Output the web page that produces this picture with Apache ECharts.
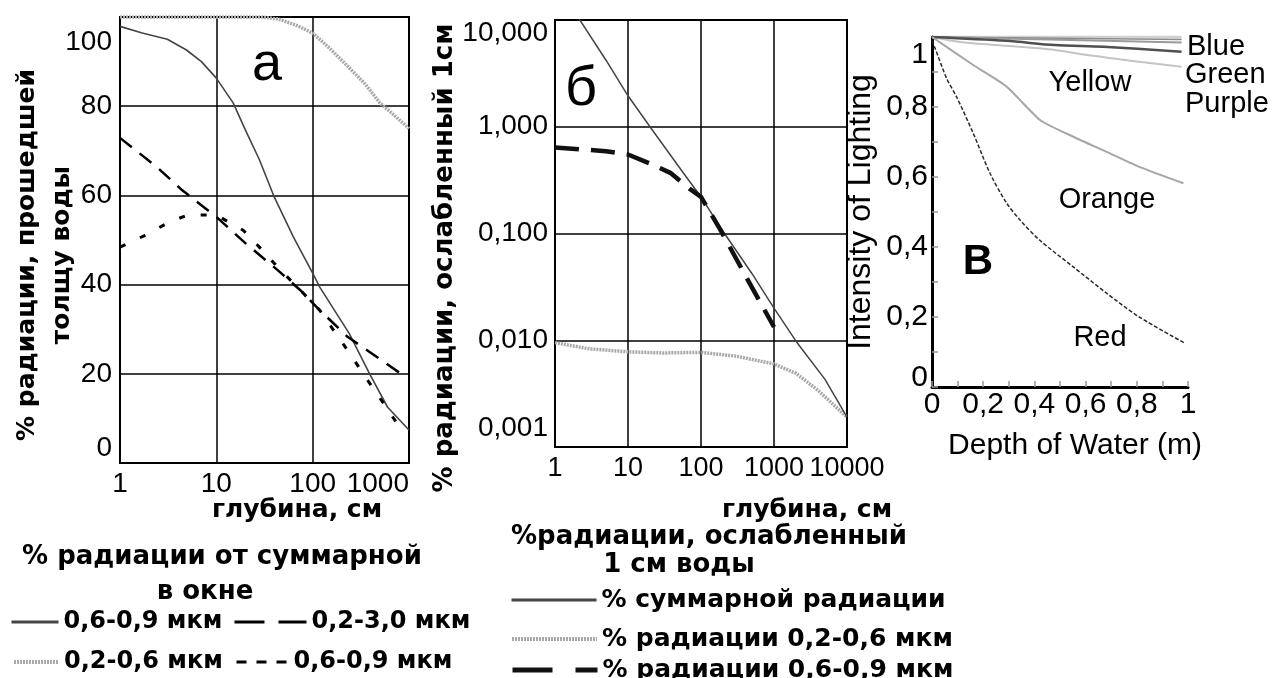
<!DOCTYPE html>
<html>
<head>
<meta charset="utf-8">
<script src="https://cdn.jsdelivr.net/npm/echarts@6.0.0/dist/echarts.min.js"></script>
<style>
  html, body { margin: 0; padding: 0; background: #fff; }
  #chart { width: 1277px; height: 678px; }
</style>
</head>
<body>
<div id="chart"></div>
<script>
// ---------- panel а: % of radiation passed through the water layer ----------
const depthTicksA = [1, 10, 100, 1000];
const pctTicksA = [0, 20, 40, 60, 80, 100];
// [depth, cm ; % of radiation]
const aTotal0609 = [[1, 97.9], [1.7, 96.4], [3.1, 95], [4.9, 92.6], [7, 90], [10, 86.3], [15, 80.7], [20, 74.7], [28, 68], [40, 59.6], [63, 50.7], [100, 42.6], [118, 39.5], [240, 29], [390, 20], [600, 12.5], [1000, 7.4]];
const aBand0206 = [[1, 100], [10, 100], [30, 100], [45, 99.5], [70, 98], [100, 96.4], [150, 93], [230, 89], [350, 85], [500, 80.7], [700, 78], [1000, 75]];
const aBand0230 = [[1, 72.9], [2.4, 66.4], [4.4, 61.2], [10, 55.2], [20, 49.3], [43, 43.3], [74, 38.8], [118, 34.3], [230, 28.3], [390, 24.9], [800, 20.2]];
const aBand0609 = [[1, 48.4], [1.8, 51], [3.1, 53.8], [5, 55.6], [10, 55.6], [19, 52.2], [28, 48.4], [43, 44], [74, 38.8], [118, 34.3], [240, 24.7], [360, 19], [540, 13.5], [800, 8]];

// ---------- panel б: % of radiation absorbed by 1 cm of water ----------
const depthTicksB = [1, 10, 100, 1000, 10000];
const attTicksB = [0.001, 0.01, 0.1, 1, 10];
const bTotal = [[2, 11], [5, 4.2], [10, 1.95], [20, 1.0], [50, 0.42], [100, 0.22], [200, 0.105], [500, 0.042], [1000, 0.02], [2000, 0.0098], [5000, 0.0043], [10000, 0.0019]];
const bBand0206 = [[1, 0.0095], [3, 0.0083], [10, 0.0078], [30, 0.0076], [100, 0.0077], [300, 0.0071], [1000, 0.006], [2000, 0.0049], [4000, 0.0034], [10000, 0.0019]];
const bBand0609 = [[1, 0.64], [5, 0.59], [10, 0.55], [22, 0.44], [38, 0.37], [71, 0.26], [100, 0.22], [182, 0.11], [426, 0.038], [1000, 0.0133]];

// ---------- panel в: light intensity vs depth of water ----------
const depthTicksC = [0, 0.2, 0.4, 0.6, 0.8, 1];
const intensityTicksC = [0, 0.2, 0.4, 0.6, 0.8, 1];
const redLight = [[0, 0.99], [0.012, 0.968], [0.057, 0.882], [0.096, 0.829], [0.161, 0.725], [0.227, 0.61], [0.292, 0.525], [0.344, 0.477], [0.42, 0.42], [0.552, 0.343], [0.682, 0.268], [0.81, 0.2], [0.988, 0.125]];
const orangeLight = [[0, 1.0], [0.161, 0.92], [0.292, 0.858], [0.422, 0.763], [0.552, 0.715], [0.682, 0.672], [0.81, 0.629], [0.982, 0.582]];
const yellowLight = [[0, 1.0], [0.11, 0.986], [0.25, 0.977], [0.48, 0.963], [0.6, 0.949], [0.8, 0.93], [0.975, 0.915]];
const purpleLight = [[0, 1.0], [0.29, 0.989], [0.48, 0.977], [0.67, 0.972], [0.975, 0.958]];
const greenLight = [[0, 1.0], [0.5, 0.992], [0.975, 0.984]];
const indigoLight = [[0, 1.0], [0.975, 0.993]];
const blueLight = [[0, 1.0], [0.975, 1.0]];

const legendText = {
  a1: '0,6-0,9 мкм',
  a3: '0,2-3,0 мкм',
  a2: '0,2-0,6 мкм',
  a4: '0,6-0,9 мкм',
  b1: '% суммарной радиации',
  b2: '% радиации 0,2-0,6 мкм',
  b3: '% радиации 0,6-0,9 мкм'
};

const NUM = 'Liberation Sans';
const TXT = 'DejaVu Sans';

const chart = echarts.init(document.getElementById('chart'), null, { renderer: 'canvas' });

const gridLines = { show: true, lineStyle: { color: '#000', width: 1.5 } };
const tickLabel = (size, margin) => ({ fontFamily: NUM, fontSize: size, color: '#000', margin: margin });
const nameStyle = (family, size, weight, padding, lineHeight) => ({
  fontFamily: family, fontSize: size, fontWeight: weight, color: '#000',
  padding: padding, lineHeight: lineHeight
});
const decimalComma = (v, digits) => v.toFixed(digits).replace('.', ',');

const grayRope = { color: '#a9a9a9', width: 3.5, type: [2, 1] };

function line(name, data, xi, lineStyle, extra) {
  return Object.assign({
    name: name, type: 'line', data: data,
    xAxisIndex: xi, yAxisIndex: xi,
    symbol: 'none', showSymbol: false, silent: true,
    itemStyle: { color: lineStyle.color },
    lineStyle: lineStyle, emphasis: { disabled: true }
  }, extra || {});
}

// one legend entry per component so each sample sits where the key layout needs it
function legendItem(name, left, top, itemWidth, lineStyle, fontSize, lh) {
  return {
    data: [name], left: left, top: top, orient: 'horizontal', padding: 0,
    itemWidth: itemWidth, itemHeight: 14, selectedMode: false,
    formatter: n => legendText[n],
    lineStyle: lineStyle,
    itemStyle: { color: 'rgba(0,0,0,0)', borderWidth: 0, opacity: 0 },
    textStyle: { fontFamily: TXT, fontWeight: 'bold', fontSize: fontSize, color: '#000', lineHeight: lh }
  };
}

function text(str, x, y, font, align) {
  return {
    type: 'text', x: x, y: y, silent: true,
    style: { text: str, font: font, fill: '#000', align: align || 'center', verticalAlign: 'middle' }
  };
}

const option = {
  backgroundColor: '#fff',
  animation: false,
  grid: [
    { left: 120, top: 17, width: 289, height: 446, show: true, borderColor: '#000', borderWidth: 2, backgroundColor: 'transparent', outerBoundsMode: 'none' },
    { left: 555, top: 20, width: 292, height: 427, show: true, borderColor: '#000', borderWidth: 2, backgroundColor: 'transparent', outerBoundsMode: 'none' },
    { left: 932, top: 37, width: 256, height: 350, show: false, outerBoundsMode: 'none' }
  ],
  xAxis: [
    {
      gridIndex: 0, type: 'log', logBase: 10, min: depthTicksA[0], max: depthTicksA[depthTicksA.length - 1],
      axisLine: { show: false }, axisTick: { show: false }, splitLine: gridLines,
      axisLabel: Object.assign(tickLabel(28, 7), { alignMaxLabel: 'right', formatter: v => String(Math.round(v)) }),
      name: 'глубина, см', nameLocation: 'middle', nameGap: 35, nameMoveOverlap: false,
      nameTextStyle: nameStyle(TXT, 25, 'bold', [0, 0, 0, 65])
    },
    {
      gridIndex: 1, type: 'log', logBase: 10, min: depthTicksB[0], max: depthTicksB[depthTicksB.length - 1],
      axisLine: { show: false }, axisTick: { show: false }, splitLine: gridLines,
      axisLabel: Object.assign(tickLabel(27, 8), { formatter: v => String(Math.round(v)) }),
      name: 'глубина, см', nameLocation: 'middle', nameGap: 51, nameMoveOverlap: false,
      nameTextStyle: nameStyle(TXT, 25, 'bold', [0, 0, 0, 212])
    },
    {
      gridIndex: 2, type: 'value', min: depthTicksC[0], max: depthTicksC[depthTicksC.length - 1], interval: 0.1,
      axisLine: { show: true, lineStyle: { color: '#000', width: 3 } },
      axisTick: { show: true, inside: true, length: 6, lineStyle: { color: '#999', width: 1.5 } },
      splitLine: { show: false },
      axisLabel: Object.assign(tickLabel(30, 3), {
        formatter: v => {
          const k = Math.round(v * 10);
          if (k % 2) return '';
          return k === 0 ? '0' : k === 10 ? '1' : decimalComma(k / 10, 1);
        }
      }),
      name: 'Depth of Water (m)', nameLocation: 'middle', nameGap: 44, nameMoveOverlap: false,
      nameTextStyle: nameStyle(NUM, 30, 'normal', [0, 0, 0, 30])
    }
  ],
  yAxis: [
    {
      gridIndex: 0, type: 'value', min: pctTicksA[0], max: pctTicksA[pctTicksA.length - 1], interval: 20,
      axisLine: { show: false }, axisTick: { show: false }, splitLine: gridLines,
      axisLabel: Object.assign(tickLabel(28, 8), {
        formatter: v => v === 100 ? '{hi|100}' : v === 0 ? '{lo|0}' : String(v),
        rich: {
          hi: { fontFamily: NUM, fontSize: 28, color: '#000', padding: [50, 0, 0, 0] },
          lo: { fontFamily: NUM, fontSize: 28, color: '#000', padding: [0, 0, 30, 0] }
        }
      }),
      name: '% радиации, прошедшей\nтолщу воды', nameLocation: 'middle', nameRotate: 90, nameGap: 40, nameMoveOverlap: false,
      nameTextStyle: nameStyle(TXT, 25, 'bold', [0, 30, 0, 0], 35)
    },
    {
      gridIndex: 1, type: 'log', logBase: 10, min: attTicksB[0], max: attTicksB[attTicksB.length - 1],
      axisLine: { show: false }, axisTick: { show: false }, splitLine: gridLines,
      axisLabel: Object.assign(tickLabel(28, 7), {
        formatter: v => {
          const s = decimalComma(v, 3);
          if (v >= 9.99) return '{hi|' + s + '}';
          if (v <= 0.00101) return '{lo|' + s + '}';
          return s;
        },
        rich: {
          hi: { fontFamily: NUM, fontSize: 28, color: '#000', padding: [26, 0, 0, 0] },
          lo: { fontFamily: NUM, fontSize: 28, color: '#000', padding: [0, 0, 38, 0] }
        }
      }),
      name: '% радиации, ослабленный 1см', nameLocation: 'middle', nameRotate: 90, nameGap: 95, nameMoveOverlap: false,
      nameTextStyle: nameStyle(TXT, 26, 'bold', [0, 49, 0, 0], 30)
    },
    {
      gridIndex: 2, type: 'value', min: intensityTicksC[0], max: intensityTicksC[intensityTicksC.length - 1], interval: 0.1,
      axisLine: { show: true, lineStyle: { color: '#000', width: 3 } },
      axisTick: { show: true, inside: true, length: 6, lineStyle: { color: '#999', width: 1.5 } },
      splitLine: { show: false },
      axisLabel: Object.assign(tickLabel(30, 4), {
        formatter: v => {
          const k = Math.round(v * 10);
          if (k % 2) return '';
          if (k === 10) return '{hi|1}';
          if (k === 0) return '{lo|0}';
          return decimalComma(k / 10, 1);
        },
        rich: {
          hi: { fontFamily: NUM, fontSize: 30, color: '#000', padding: [36, 0, 0, 0] },
          lo: { fontFamily: NUM, fontSize: 30, color: '#000', padding: [0, 0, 18, 0] }
        }
      }),
      name: 'Intensity of Lighting', nameLocation: 'middle', nameRotate: 90, nameGap: 56, nameMoveOverlap: false,
      nameTextStyle: nameStyle(NUM, 32, 'normal', [0, 0, 0, 0], 30)
    }
  ],
  legend: [
    legendItem('a1', 10, 608, 47, { color: '#444', width: 3, type: 'solid' }, 24, 28),
    legendItem('a3', 233, 608, 72, { color: '#000', width: 3, type: [30, 14] }, 24, 28),
    legendItem('a2', 12, 648, 45, { color: '#a9a9a9', width: 4, type: [2, 1] }, 24, 28),
    legendItem('a4', 235, 648, 52, { color: '#000', width: 3, type: [10, 10] }, 24, 28),
    legendItem('b1', 510, 585, 85, { color: '#444', width: 3, type: 'solid' }, 25, 30),
    legendItem('b2', 510, 624, 85, { color: '#a9a9a9', width: 4, type: [2, 1] }, 25, 30),
    legendItem('b3', 510, 655, 85, { color: '#111', width: 5, type: [40, 23] }, 25, 30)
  ],
  series: [
    // panel а
    line('a2', aBand0206, 0, grayRope),
    line('a1', aTotal0609, 0, { color: '#444', width: 1.6 }),
    line('a3', aBand0230, 0, { color: '#000', width: 2.5, type: [15, 10] }),
    line('a4', aBand0609, 0, { color: '#000', width: 3, type: [6, 16] }),
    // panel б
    line('b2', bBand0206, 1, grayRope),
    line('b1', bTotal, 1, { color: '#444', width: 1.5 }),
    line('b3', bBand0609, 1, { color: '#111', width: 4.5, type: [24, 12] }),
    // panel в
    line('Blue', blueLight, 2, { color: '#d0d0d0', width: 3 }),
    line('Indigo', indigoLight, 2, { color: '#8c8c8c', width: 1.5 }),
    line('Green', greenLight, 2, { color: '#9a9a9a', width: 2 }),
    line('Yellow', yellowLight, 2, { color: '#c4c4c4', width: 2 }, { smooth: 0.3 }),
    line('Purple', purpleLight, 2, { color: '#505050', width: 2.5 }, { smooth: 0.3 }),
    line('Orange', orangeLight, 2, { color: '#a6a6a6', width: 2 }, { smooth: 0.2 }),
    line('Red', redLight, 2, { color: '#2a2a2a', width: 1.5, type: [4, 2] }, { smooth: 0.3 })
  ],
  graphic: [
    text('а', 267, 65, '54px "Liberation Sans"'),
    text('б', 581, 90, '56px "Liberation Sans"'),
    text('В', 978, 262, 'bold 42px "Liberation Sans"'),
    text('Blue', 1187, 47, '29px "Liberation Sans"', 'left'),
    text('Green', 1185, 75, '29px "Liberation Sans"', 'left'),
    text('Purple', 1185, 104, '29px "Liberation Sans"', 'left'),
    text('Yellow', 1090, 83, '29px "Liberation Sans"'),
    text('Orange', 1107, 200, '29px "Liberation Sans"'),
    text('Red', 1100, 338, '29px "Liberation Sans"'),
    text('% радиации от суммарной', 222, 557, 'bold 26px "DejaVu Sans"'),
    text('в окне', 205, 592, 'bold 26px "DejaVu Sans"'),
    text('%радиации, ослабленный', 709, 537, 'bold 26px "DejaVu Sans"'),
    text('1 см воды', 679, 565, 'bold 26px "DejaVu Sans"')
  ]
};

chart.setOption(option);
</script>
</body>
</html>
